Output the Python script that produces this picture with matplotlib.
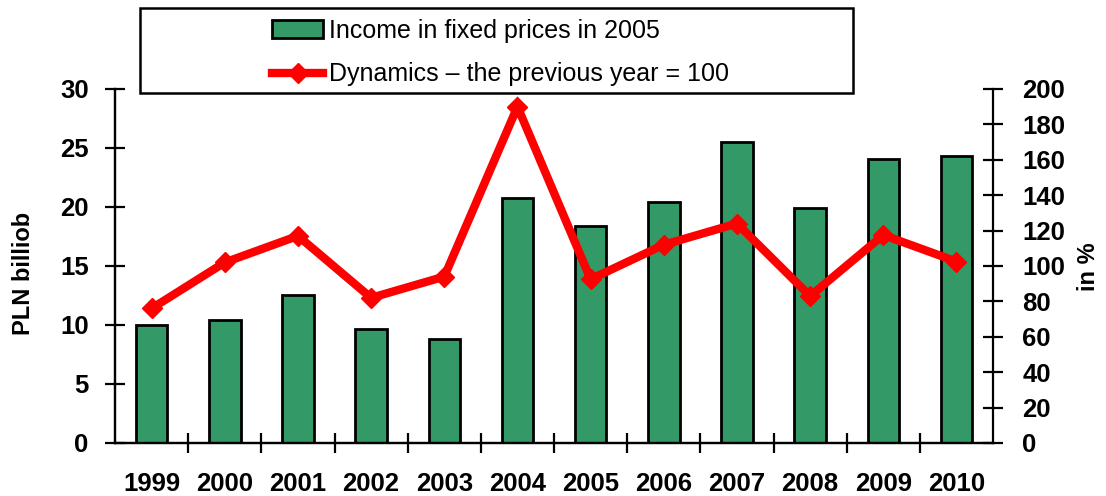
"""
Income in fixed prices (2005) and its year-to-year dynamics, 1999-2010.
Bars on the left axis (PLN billion), line on the right axis (previous year = 100).
"""

import matplotlib
matplotlib.use('Agg')
import matplotlib.pyplot as plt
from matplotlib.patches import Rectangle


# ============== DATA ==============

years = ['1999', '2000', '2001', '2002', '2003', '2004',
         '2005', '2006', '2007', '2008', '2009', '2010']
income = [10.0, 10.4, 12.5, 9.7, 8.8, 20.8, 18.4, 20.45, 25.5, 19.9, 24.1, 24.35]
dynamics = [76, 102, 117, 82, 94, 190, 92.5, 112, 124, 83, 117.5, 102.5]

left_ticks = [0, 5, 10, 15, 20, 25, 30]
right_ticks = [0, 20, 40, 60, 80, 100, 120, 140, 160, 180, 200]

bar_label = 'Income in fixed prices in 2005'
line_label = 'Dynamics \u2013 the previous year = 100'


# ============== STYLE ==============

FIG_W, FIG_H, DPI = 11.06, 4.96, 100
BAR_COLOR = '#339966'
LINE_COLOR = '#FF0000'
FONT = 'Liberation Sans'
TICK_SIZE = 18.5
AXIS_LW = 1.6


def style_ticks(ax, side):
	"""Crossing ticks and bold labels for one y axis"""
	ax.tick_params(axis='y', which='both', direction='inout', length=14,
				   width=AXIS_LW, labelsize=TICK_SIZE,
				   pad=12 if side == 'left' else 14)
	for lab in ax.get_yticklabels():
		lab.set_fontweight('bold')
		lab.set_fontfamily(FONT)


def main():
	fig = plt.figure(figsize=(FIG_W, FIG_H), dpi=DPI)
	ax = fig.add_axes([0.1040, 0.1069, 0.7939, 0.7137])
	ax2 = ax.twinx()

	x = range(len(years))

	# Bars (left axis)
	bars = ax.bar(x, income, width=0.43, color=BAR_COLOR, edgecolor='black',
				  linewidth=2, zorder=2, label=bar_label)
	ax.set_ylim(0, 30)
	ax.set_xlim(-0.5, len(years) - 0.5)
	ax.set_yticks(left_ticks)

	# Line (right axis)
	line, = ax2.plot(x, dynamics, color=LINE_COLOR, linewidth=6, marker='D',
					 markersize=10, solid_joinstyle='miter', label=line_label)
	ax2.set_ylim(0, 200)
	ax2.set_yticks(right_ticks)

	# Spines
	for a in (ax, ax2):
		a.spines['top'].set_visible(False)
		for s in ('left', 'right', 'bottom'):
			a.spines[s].set_linewidth(AXIS_LW)
	ax.spines['right'].set_visible(False)

	# X axis: labels at bar centres, ticks between categories
	ax.set_xticks(list(x))
	ax.set_xticklabels(years, fontsize=TICK_SIZE, fontweight='bold', fontfamily=FONT)
	ax.set_xticks([i + 0.5 for i in range(len(years) - 1)], minor=True)
	ax.tick_params(axis='x', which='major', length=0, pad=21)
	ax.tick_params(axis='x', which='minor', direction='inout', length=14, width=AXIS_LW)

	style_ticks(ax, 'left')
	style_ticks(ax2, 'right')

	# Axis titles
	fig.text(0.021, 0.448, 'PLN billiob', rotation=90, ha='center', va='center',
			 fontsize=17, fontweight='bold', fontfamily=FONT)
	fig.text(0.984, 0.462, 'in %', rotation=90, ha='center', va='center',
			 fontsize=17, fontweight='bold', fontfamily=FONT)

	# Legend box drawn on top of the axes
	frame = Rectangle((0.1266, 0.8125), 0.6446, 0.1714, transform=fig.transFigure,
					  facecolor='white', edgecolor='black', linewidth=1.8, zorder=3)
	fig.patches.append(frame)
	leg = fig.legend(handles=[bars, line], loc='upper left',
					 bbox_to_anchor=(0.2459, 0.962), frameon=False,
					 borderpad=0, borderaxespad=0, handlelength=2.05,
					 handletextpad=0.25, labelspacing=0.78,
					 prop={'family': FONT, 'size': 18})
	leg.set_zorder(4)

	fig.savefig('out.png', dpi=DPI)


if __name__ == '__main__':
	main()
